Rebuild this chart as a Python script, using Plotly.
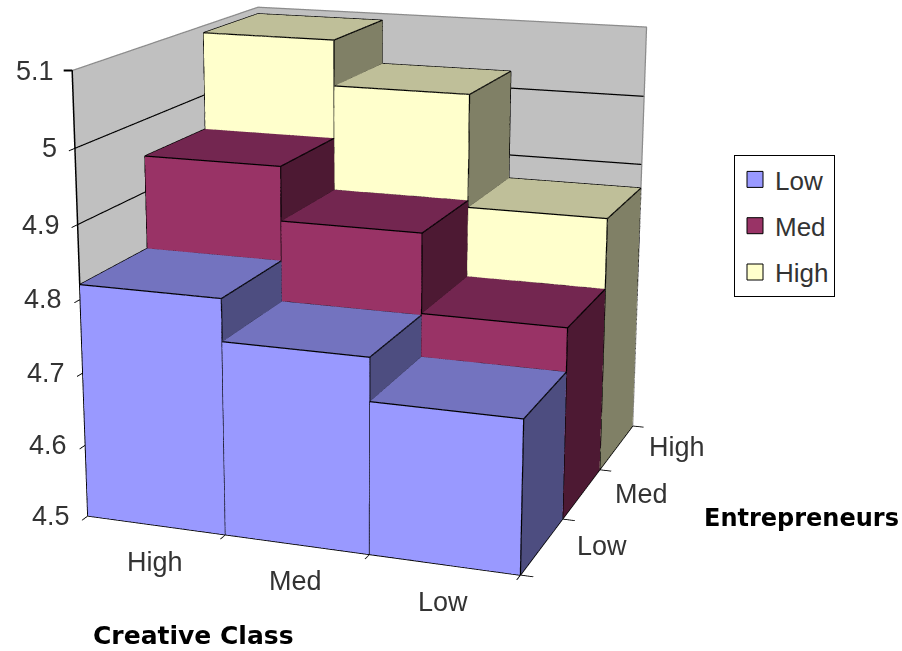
import plotly.graph_objects as go

# Mean outcome by creative-class level (x) and entrepreneur level (depth)
creative_levels = ["High", "Med", "Low"]
entrepreneur_levels = ["Low", "Med", "High"]
low_values = [4.82, 4.763, 4.705]
med_values = [4.95, 4.875, 4.765]
high_values = [5.09, 5.025, 4.865]
z_ticks = [4.5, 4.6, 4.7, 4.8, 4.9, 5.0, 5.1]
z_tick_labels = ["4.5", "4.6", "4.7", "4.8", "4.9", "5", "5.1"]
z_floor = 4.5
z_ceiling = 5.1

series = [
    ("Low", low_values, "#9999FF", "#7373BF", "#4D4D80"),
    ("Med", med_values, "#993366", "#732650", "#4D1933"),
    ("High", high_values, "#FFFFCC", "#BFBF99", "#808066"),
]

FIG_W, FIG_H = 902, 1822   # tall canvas gives the long lens of the 3-D view
PAGE_SHIFT = 611           # canvas is raised so the optical centre sits at y=300

fig = go.Figure()
edge_x, edge_y, edge_z = [], [], []

for depth, (name, values, front, top, side) in enumerate(series):
    vx, vy, vz, ti, tj, tk, colors = [], [], [], [], [], [], []
    for col, value in enumerate(values):
        base = len(vx)
        for zv in (z_floor, value):
            for xv, yv in ((col, depth), (col + 1, depth), (col + 1, depth + 1), (col, depth + 1)):
                vx.append(xv)
                vy.append(yv)
                vz.append(zv)
        quads = [
            ((0, 1, 5, 4), front),
            ((1, 2, 6, 5), side),
            ((3, 0, 4, 7), side),
            ((2, 3, 7, 6), front),
            ((4, 5, 6, 7), top),
            ((0, 1, 2, 3), top),
        ]
        for (a, b, c, d), color in quads:
            ti += [base + a, base + a]
            tj += [base + b, base + c]
            tk += [base + c, base + d]
            colors += [color, color]
        ring = [(col, depth), (col + 1, depth), (col + 1, depth + 1), (col, depth + 1), (col, depth)]
        for zv in (z_floor, value):
            for xv, yv in ring:
                edge_x.append(xv)
                edge_y.append(yv)
                edge_z.append(zv)
            edge_x.append(None)
            edge_y.append(None)
            edge_z.append(None)
        for xv, yv in ring[:4]:
            edge_x += [xv, xv, None]
            edge_y += [yv, yv, None]
            edge_z += [z_floor, value, None]
    fig.add_trace(go.Mesh3d(
        x=vx, y=vy, z=vz, i=ti, j=tj, k=tk, facecolor=colors, flatshading=True,
        lighting=dict(ambient=1, diffuse=0, specular=0, fresnel=0, roughness=1),
        hoverinfo="skip", showlegend=False, showscale=False,
    ))
    # legend swatch, hidden inside its own bar
    fig.add_trace(go.Scatter3d(
        x=[0.5], y=[depth + 0.5], z=[z_floor + 0.05], mode="markers", name=name,
        legendgroup=name,
        marker=dict(symbol="square", size=16, color=front, line=dict(color="black", width=1)),
        hoverinfo="skip",
    ))

fig.add_trace(go.Scatter3d(
    x=edge_x, y=edge_y, z=edge_z, mode="lines", line=dict(color="black", width=2.5),
    hoverinfo="skip", showlegend=False,
))

# outer rim of the two walls and the value axis
fig.add_trace(go.Scatter3d(
    x=[0, 0, 3, 3], y=[0, 3, 3, 3], z=[z_ceiling, z_ceiling, z_ceiling, z_floor],
    mode="lines", line=dict(color="#8C8C8C", width=2.5), hoverinfo="skip", showlegend=False,
))
fig.add_trace(go.Scatter3d(
    x=[0, 0], y=[0, 0], z=[z_floor, z_ceiling],
    mode="lines", line=dict(color="black", width=2.5), hoverinfo="skip", showlegend=False,
))

tick_font = dict(family="Liberation Sans", size=27, color="#333333")
scene_notes = []
for col, label in enumerate(creative_levels):
    scene_notes.append(dict(x=col + 0.5, y=0, z=z_floor, text=label, showarrow=False,
                            yshift=-37, xshift=-1, font=tick_font))
for row, label in enumerate(entrepreneur_levels):
    scene_notes.append(dict(x=3, y=row + 0.5, z=z_floor, text=label, showarrow=False,
                            yshift=0, xshift=60, font=tick_font))
for value, label in zip(z_ticks, z_tick_labels):
    scene_notes.append(dict(x=0, y=0, z=value, text=label, showarrow=False, xanchor="right",
                            xshift=-16, font=tick_font))
# the top tick has no gridline, so its mark is a short arrow stem
scene_notes.append(dict(x=0, y=0, z=z_ceiling, text="", showarrow=True, arrowhead=0, arrowwidth=2,
                        arrowcolor="black", ax=-10, ay=0, standoff=0))


def page_y(py):
    return 1 - (py + PAGE_SHIFT) / FIG_H


axis_common = dict(showticklabels=False, showgrid=False, showline=True, linecolor="black",
                   linewidth=3, ticks="outside", ticklen=10, tickcolor="black", tickwidth=2,
                   zeroline=False, showspikes=False, title=dict(text=""))

fig.update_layout(
    width=FIG_W, height=FIG_H, autosize=False,
    margin=dict(l=0, r=0, t=0, b=0),
    paper_bgcolor="white",
    font=tick_font,
    scene=dict(
        domain=dict(x=[0, 720 / FIG_W], y=[0, 1]),
        aspectmode="manual",
        aspectratio=dict(x=1, y=1.0235, z=1.002),
        camera=dict(
            projection=dict(type="perspective"),
            up=dict(x=0, y=0, z=1),
            eye=dict(x=1.635, y=-4.627, z=1.272),
            center=dict(x=-0.005, y=-0.097, z=-0.063),
        ),
        xaxis=dict(axis_common, range=[0, 3], tickvals=[0, 1, 2, 3],
                   showbackground=True, backgroundcolor="#C0C0C0"),
        yaxis=dict(axis_common, range=[0, 3], tickvals=[0, 1, 2, 3],
                   showbackground=True, backgroundcolor="#C0C0C0"),
        zaxis=dict(axis_common, range=[z_floor, z_ceiling + 0.0005], tickvals=z_ticks[:-1],
                   showgrid=True, gridcolor="black", gridwidth=2.5,
                   showbackground=False),
        annotations=scene_notes,
    ),
    legend=dict(
        x=734 / FIG_W, y=page_y(155), xanchor="left", yanchor="top",
        bordercolor="black", borderwidth=1, bgcolor="white",
        traceorder="grouped", tracegroupgap=9.5,
        font=dict(family="Liberation Sans", size=26, color="#333333"),
        itemwidth=30,
    ),
    annotations=[
        dict(x=193 / FIG_W, y=page_y(635), xref="paper", yref="paper", xanchor="center", yanchor="middle",
             text="<b>Creative Class</b>", showarrow=False,
             font=dict(family="DejaVu Sans", size=25, color="black")),
        dict(x=801 / FIG_W, y=page_y(518), xref="paper", yref="paper", xanchor="center", yanchor="middle",
             text="<b>Entrepreneurs</b>", showarrow=False,
             font=dict(family="DejaVu Sans", size=24, color="black")),
    ],
)

lift_canvas = (
    "var d=document.querySelector('.plotly-graph-div');"
    "d.style.marginTop='-%dpx';"
    "document.documentElement.style.overflow='hidden';"
    "document.body.style.overflow='hidden';" % PAGE_SHIFT
)
fig.write_html("out.html", post_script=lift_canvas, config=dict(displayModeBar=False))
